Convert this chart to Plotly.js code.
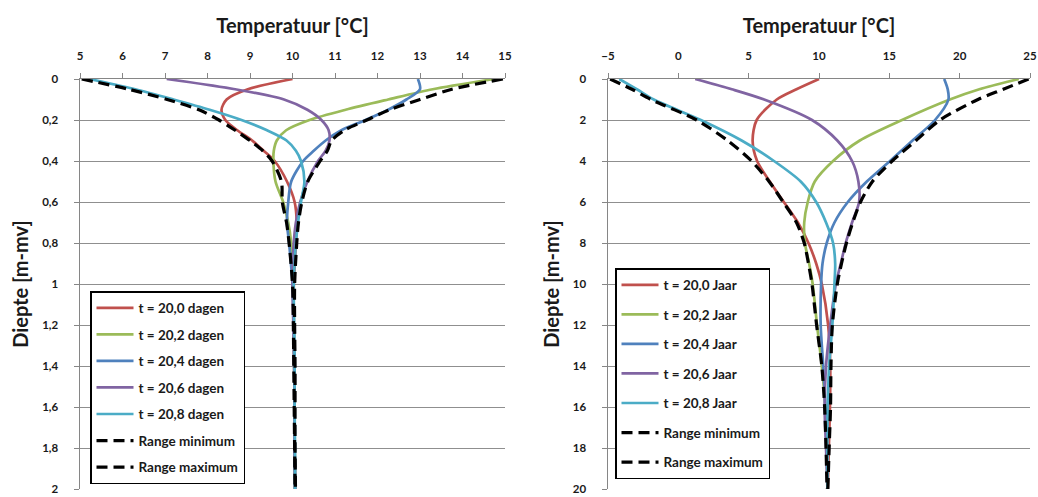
<!DOCTYPE html>
<html>
<head>
<meta charset="utf-8">
<script src="https://cdn.plot.ly/plotly-3.0.1.min.js"></script>
<style>html,body{margin:0;padding:0;background:#fff;}#chart{width:1038px;height:497px;}</style>
</head>
<body>
<div id="chart"></div>
<script>
// ---------- Data ----------
// Left panel: depth [m-mv], temperatures [°C] per day-fraction
const depthLeft = [0, 0.05, 0.1, 0.15, 0.2, 0.25, 0.3, 0.35, 0.4, 0.5, 0.6, 0.7, 0.8, 1.0, 1.2, 1.4, 1.6, 1.8, 2.0];
const leftT200 = [10.0, 8.95, 8.45, 8.33, 8.42, 8.7, 9.05, 9.32, 9.58, 9.87, 10.05, 10.1, 10.08, 10.03, 10.03, 10.04, 10.05, 10.05, 10.06];
const leftT202 = [14.75, 13.3, 12.25, 11.25, 10.4, 9.85, 9.63, 9.56, 9.55, 9.6, 9.78, 9.9, 9.97, 10.02, 10.03, 10.04, 10.05, 10.05, 10.06];
const leftT204 = [12.95, 13.0, 12.68, 12.25, 11.72, 11.15, 10.78, 10.5, 10.25, 9.97, 9.9, 9.87, 9.92, 10.0, 10.03, 10.04, 10.05, 10.05, 10.06];
const leftT206 = [7.04, 8.65, 9.8, 10.35, 10.68, 10.85, 10.87, 10.78, 10.6, 10.35, 10.18, 10.08, 10.03, 10.0, 10.02, 10.04, 10.05, 10.05, 10.06];
const leftT208 = [5.22, 6.3, 7.2, 8.05, 8.8, 9.4, 9.86, 10.08, 10.2, 10.28, 10.2, 10.13, 10.08, 10.03, 10.04, 10.05, 10.05, 10.06, 10.06];
const leftMin  = [5.04, 6.15, 7.05, 7.8, 8.27, 8.65, 9.0, 9.3, 9.52, 9.74, 9.76, 9.86, 9.92, 10.0, 10.02, 10.03, 10.04, 10.05, 10.06];
const leftMax  = [14.95, 13.75, 13.0, 12.28, 11.75, 11.22, 10.92, 10.82, 10.65, 10.36, 10.22, 10.14, 10.1, 10.05, 10.05, 10.06, 10.06, 10.06, 10.07];
const leftNames = ["t = 20,0 dagen", "t = 20,2 dagen", "t = 20,4 dagen", "t = 20,6 dagen", "t = 20,8 dagen", "Range minimum", "Range maximum"];

// Right panel: depth [m-mv], temperatures [°C] per year-fraction
const depthRight = [0, 0.5, 1, 2, 3, 4, 5, 6, 7, 8, 9, 10, 12, 14, 16, 18, 20];
const rightT200 = [10.0, 8.4, 7.0, 5.57, 5.28, 5.6, 6.5, 7.5, 8.5, 9.25, 9.8, 10.2, 10.65, 10.8, 10.78, 10.7, 10.62];
const rightT202 = [24.2, 21.4, 19.3, 15.9, 12.9, 11.0, 9.7, 9.2, 8.95, 9.0, 9.3, 9.55, 9.86, 10.2, 10.45, 10.55, 10.6];
const rightT204 = [18.9, 19.15, 19.2, 18.25, 16.65, 15.05, 13.4, 12.05, 11.1, 10.55, 10.25, 10.15, 10.12, 10.3, 10.45, 10.55, 10.6];
const rightT206 = [1.2, 3.8, 6.1, 9.5, 11.3, 12.35, 12.8, 12.85, 12.35, 11.9, 11.55, 11.2, 10.8, 10.5, 10.4, 10.5, 10.6];
const rightT208 = [-4.2, -2.95, -1.75, 1.6, 4.5, 6.8, 8.7, 9.8, 10.5, 11.0, 11.15, 11.1, 10.95, 10.72, 10.62, 10.6, 10.6];
const rightMin  = [-4.85, -3.3, -1.95, 1.3, 3.5, 5.2, 6.45, 7.45, 8.4, 8.95, 9.25, 9.5, 9.83, 10.2, 10.4, 10.5, 10.57];
const rightMax  = [24.9, 23.1, 21.3, 18.6, 16.9, 15.2, 13.8, 12.95, 12.4, 11.95, 11.6, 11.3, 10.95, 10.85, 10.82, 10.72, 10.63];
const rightNames = ["t = 20,0 Jaar", "t = 20,2 Jaar", "t = 20,4 Jaar", "t = 20,6 Jaar", "t = 20,8 Jaar", "Range minimum", "Range maximum"];

// ---------- Styling ----------
const W = 1038, H = 497;
const FONT = "Lato, 'Open Sans', 'DejaVu Sans', sans-serif";
const colors = ["#C0504D", "#9BBB59", "#4F81BD", "#8064A2", "#4BACC6"];
const axisGray = "#868686";

const leftSeries = [leftT200, leftT202, leftT204, leftT206, leftT208];
const rightSeries = [rightT200, rightT202, rightT204, rightT206, rightT208];

const traces = [];
function addPanel(series, mn, mx, depth, names, xa, ya, legendId, tag) {
  series.forEach((vals, i) => {
    traces.push({
      x: vals, y: depth, xaxis: xa, yaxis: ya, type: 'scatter', mode: 'lines',
      name: names[i], legend: legendId, legendgroup: tag + i,
      line: {color: colors[i], width: 2.7, shape: 'spline', smoothing: 0.8},
      hoverinfo: 'skip'
    });
  });
  [mn, mx].forEach((vals, j) => {
    traces.push({
      x: vals, y: depth, xaxis: xa, yaxis: ya, type: 'scatter', mode: 'lines',
      name: names[5 + j], legend: legendId, legendgroup: tag + (5 + j),
      line: {color: '#000000', width: 3.2, dash: '11px,6px', shape: 'spline', smoothing: 0.8},
      hoverinfo: 'skip'
    });
  });
}
addPanel(leftSeries, leftMin, leftMax, depthLeft, leftNames, 'x', 'y', 'legend', 'L');
addPanel(rightSeries, rightMin, rightMax, depthRight, rightNames, 'x2', 'y2', 'legend2', 'R');

const tickFont = {family: FONT, size: 11.5, color: '#1a1a1a', weight: 'bold'};
const titleFont = {family: FONT, size: 20, color: '#1a1a1a', weight: 'bold'};

function xAxis(domain, range, dtick, anchor) {
  return {
    domain: domain, range: range, autorange: false, side: 'top', anchor: anchor,
    tick0: range[0], dtick: dtick, ticks: 'outside', ticklen: 5, tickwidth: 1, tickcolor: axisGray,
    showline: true, linecolor: axisGray, linewidth: 1.5, showgrid: false, zeroline: false,
    tickfont: tickFont, ticklabelstandoff: 8,
    title: {text: 'Temperatuur [°C]', font: titleFont, standoff: 10},
    fixedrange: true
  };
}
function yAxis(range, dtick, anchor) {
  return {
    domain: [0, 1], range: range, autorange: false, anchor: anchor,
    tick0: 0, dtick: dtick, ticks: 'outside', ticklen: 5, tickwidth: 1, tickcolor: axisGray,
    showline: true, linecolor: axisGray, linewidth: 1.5,
    showgrid: true, gridcolor: '#8f8f8f', gridwidth: 1, zeroline: false,
    tickfont: tickFont, ticklabelstandoff: 13, ticklabeloverflow: 'allow',
    title: {text: 'Diepte [m-mv]', font: titleFont, standoff: 8},
    fixedrange: true
  };
}

const plotTop = 79, plotBottom = 489;
const plotH = plotBottom - plotTop;
function py(p) { return (plotBottom - p) / plotH; }

const legendCommon = {
  xanchor: 'left', yanchor: 'top', bgcolor: '#ffffff', bordercolor: '#000000', borderwidth: 1.5,
  font: {family: FONT, size: 13.5, color: '#1a1a1a', weight: 'bold'},
  traceorder: 'grouped', itemwidth: 37, itemclick: false, itemdoubleclick: false
};

const layout = {
  width: W, height: H,
  margin: {l: 0, r: 0, t: plotTop, b: H - plotBottom, autoexpand: false},
  paper_bgcolor: '#ffffff', plot_bgcolor: '#ffffff',
  separators: ',.',
  showlegend: true,
  xaxis: xAxis([80 / W, 505 / W], [5, 15], 1, 'y'),
  yaxis: yAxis([2, 0], 0.2, 'x'),
  xaxis2: xAxis([608 / W, 1030 / W], [-5, 25], 5, 'y2'),
  yaxis2: yAxis([20, 0], 2, 'x2'),
  legend: Object.assign({}, legendCommon, {x: 90 / W, y: py(291), tracegroupgap: 6}),
  legend2: Object.assign({}, legendCommon, {x: 615 / W, y: py(268), tracegroupgap: 9})
};

Plotly.newPlot('chart', traces, layout, {staticPlot: true, displayModeBar: false});
</script>
</body>
</html>
